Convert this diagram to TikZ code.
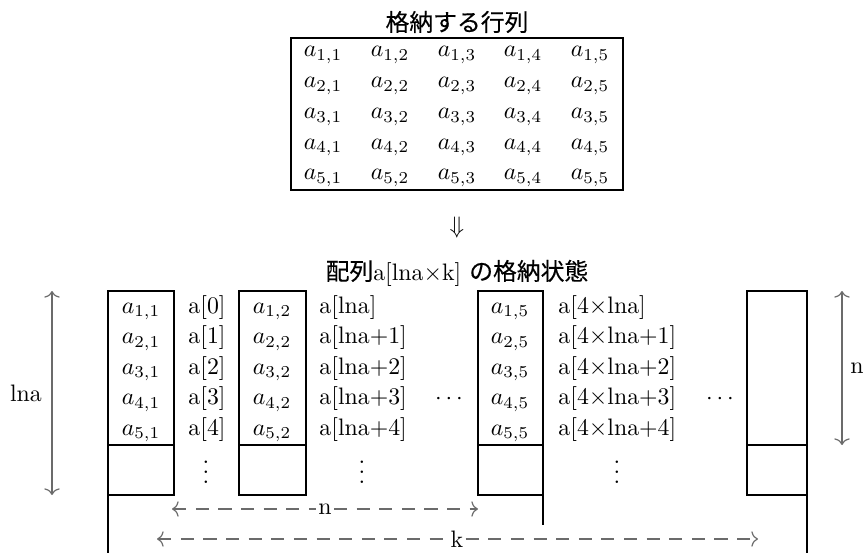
\documentclass[tikz,border=0pt]{standalone}
\usepackage{fontspec}
\newfontfamily\jp{Noto Sans CJK JP}[FakeBold=0.3]
\usetikzlibrary{arrows.meta}
\definecolor{dimcol}{HTML}{6B6B6B}
\begin{document}
\begin{tikzpicture}[x=0.42pt,y=-0.42pt,
  boxline/.style={line width=1.1pt},
  ent/.style={inner sep=0pt,anchor=base},
  lab/.style={inner sep=0pt,anchor=base west},
  vd/.style={inner sep=0pt,anchor=base,text height=9.5pt},
  dimarr/.style={draw=dimcol,line width=0.5pt,arrows={To[length=2.8pt,width=6.5pt]-To[length=2.8pt,width=6.5pt]}},
  dimdash/.style={draw=dimcol,line width=0.5pt,dash pattern=on 5.5pt off 4pt},
  dimlab/.style={inner sep=0.8pt}]
\useasboundingbox (0,0) rectangle (865,553);
% top title and matrix
\node (t1) at (457,22) {\jp 格納する行列};
\draw[boxline] (291,38) rectangle (623,190);
\foreach \i/\y in {1/57,2/88,3/118.5,4/149,5/179.5}
  \foreach \j/\x in {1/323,2/390,3/457,4/523,5/590}
    \node[ent] (m\i\j) at (\x,\y) {$a_{\i,\j}$};
\node (dn) at (457,228) {$\Downarrow$};
\node[anchor=base] (t2) at (457,280) {{\jp 配列}a[lna$\times$k] {\jp の格納状態}};
% columns
\draw[boxline] (108,291) rectangle (174,495);
\draw[boxline] (108,445) -- (174,445);
\draw[boxline] (108,495) -- (108,553);
\draw[boxline] (239,291) rectangle (306,495);
\draw[boxline] (239,445) -- (306,445);
\draw[boxline] (478,291) rectangle (543,495);
\draw[boxline] (478,445) -- (543,445);
\draw[boxline] (543,495) -- (543,525);
\draw[boxline] (747,291) rectangle (807,495);
\draw[boxline] (747,445) -- (807,445);
\draw[boxline] (807,495) -- (807,553);
% entries
\foreach \i/\y in {1/313,2/343.5,3/374,4/404.5,5/435}{
  \node[ent] (c1\i) at (141,\y) {$a_{\i,1}$};
  \node[ent] (c2\i) at (272,\y) {$a_{\i,2}$};
  \node[ent] (c3\i) at (510,\y) {$a_{\i,5}$};
}
\foreach \k/\y in {0/313,1/343.5,2/374,3/404.5,4/435}
  \node[lab] (l1\k) at (188,\y) {a[\k]};
\node[lab] (l20) at (319,313) {a[lna]};
\foreach \k/\y in {1/343.5,2/374,3/404.5,4/435}
  \node[lab] (l2\k) at (319,\y) {a[lna+\k]};
\node[lab] (l30) at (558,313) {a[4$\times$lna]};
\foreach \k/\y in {1/343.5,2/374,3/404.5,4/435}
  \node[lab] (l3\k) at (558,\y) {a[4$\times$lna+\k]};
\node[vd] (v1) at (206,483) {$\vdots$};
\node[vd] (v2) at (362,483) {$\vdots$};
\node[vd] (v3) at (617,483) {$\vdots$};
\node[ent] (h1) at (449,404.5) {$\cdots$};
\node[ent] (h2) at (720,404.5) {$\cdots$};
% vertical dimension arrows
\coordinate (lnaT) at (52,291);
\coordinate (lnaB) at (52,495);
\draw[dimarr] (lnaT) -- (lnaB);
\node (lnal) at (26,393) {lna};
\coordinate (nT) at (842,291);
\coordinate (nB) at (842,445);
\draw[dimarr] (nT) -- (nB);
\node (nl) at (857,368) {n};
% horizontal dimension arrows
\node[dimlab] (hn) at (325,509) {n};
\coordinate (hnL) at (172,509);
\coordinate (hnR) at (478,509);
\draw[dimdash,arrows={To[length=2.8pt,width=6.5pt]-}] (hnL) -- (hn.west);
\draw[dimdash,arrows={-To[length=2.8pt,width=6.5pt]}] (hn.east) -- (hnR);
\node[dimlab] (hk) at (457,539) {k};
\coordinate (hkL) at (157,539);
\coordinate (hkR) at (758,539);
\draw[dimdash,arrows={To[length=2.8pt,width=6.5pt]-}] (hkL) -- (hk.west);
\draw[dimdash,arrows={-To[length=2.8pt,width=6.5pt]}] (hk.east) -- (hkR);
\end{tikzpicture}
\end{document}
